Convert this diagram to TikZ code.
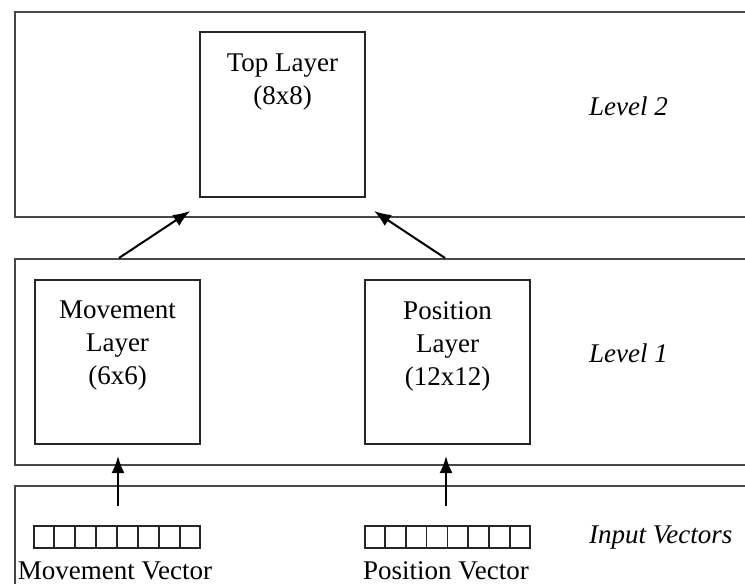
\documentclass[tikz,border=0pt]{standalone}
\usepackage{fontspec}
\setmainfont{Liberation Serif}
\usetikzlibrary{arrows.meta,calc}
\begin{document}
\begin{tikzpicture}[x=1pt,y=-1pt,
  panel/.style={draw=black!72, line width=2pt, anchor=north west, inner sep=0pt,
    minimum width=760pt},
  layerbox/.style={draw=black!85, line width=2pt, anchor=north west, inner sep=0pt,
    minimum width=165pt, minimum height=165pt},
  boxtext/.style={font=\fontsize{27}{33}\selectfont, align=center, anchor=north,
    inner sep=0pt},
  levellabel/.style={font=\fontsize{27}{33}\selectfont\itshape, anchor=west,
    inner sep=0pt},
  veclabel/.style={font=\fontsize{27}{33}\selectfont, anchor=base, inner sep=0pt},
  vecbox/.style={draw=black!85, line width=1.8pt, anchor=north west, inner sep=0pt,
    minimum width=166pt, minimum height=22pt},
  cellrule/.style={draw=black!85, line width=1.8pt},
  feed/.style={draw=black, line width=2pt, -{Latex[length=17pt,width=13pt]}}
]
\useasboundingbox (0,0) rectangle (745,584);
\clip (0,0) rectangle (745,584);

% level panels (running off the right edge)
\node[panel, minimum height=205pt] (lvl2) at (14,11) {};
\node[panel, minimum height=206pt] (lvl1) at (14,258) {};
\node[panel, minimum height=150pt] (lvl0) at (14,485) {};

% layer boxes
\node[layerbox] (top) at (199,31) {};
\node[layerbox, minimum height=164pt] (move) at (34,279) {};
\node[layerbox, minimum height=164pt] (pos) at (364,279) {};

\node[boxtext] (toptxt) at ([yshift=-23pt]top.north) {Top Layer\\(8x8)};
\node[boxtext] (movetxt) at ([yshift=-22pt]move.north) {Movement\\Layer\\(6x6)};
\node[boxtext] (postxt) at ([yshift=-22pt]pos.north) {Position\\Layer\\(12x12)};

% level labels
\node[levellabel] (l2) at (589,106) {Level 2};
\node[levellabel] (l1) at (589,353) {Level 1};
\node[levellabel] (l0) at (589,538) {Input Vectors};

% input vectors, eight cells each
\node[vecbox] (mvec) at (33,525) {};
\node[vecbox, minimum width=165pt] (pvec) at (364,525) {};
\foreach \k in {1,...,7}{
  \draw[cellrule]
    ($(mvec.north west)!\k/8!(mvec.north east)$) -- ($(mvec.south west)!\k/8!(mvec.south east)$);
  \draw[cellrule]
    ($(pvec.north west)!\k/8!(pvec.north east)$) -- ($(pvec.south west)!\k/8!(pvec.south east)$);
}
\node[veclabel] (mvectxt) at (115,579) {Movement Vector};
\node[veclabel] (pvectxt) at (446,579) {Position Vector};

% connectors
\coordinate (mvIn) at (118,506);
\coordinate (mvTip) at (118,456);
\coordinate (psIn) at (446,506);
\coordinate (psTip) at (446,456);
\coordinate (mvUp) at (119,258);
\coordinate (topL) at (190,211);
\coordinate (psUp) at (445,258);
\coordinate (topR) at (374,211);

\draw[feed] (mvIn) -- (mvTip);
\draw[feed] (psIn) -- (psTip);
\draw[feed] (mvUp) -- (topL);
\draw[feed] (psUp) -- (topR);
\end{tikzpicture}
\end{document}
